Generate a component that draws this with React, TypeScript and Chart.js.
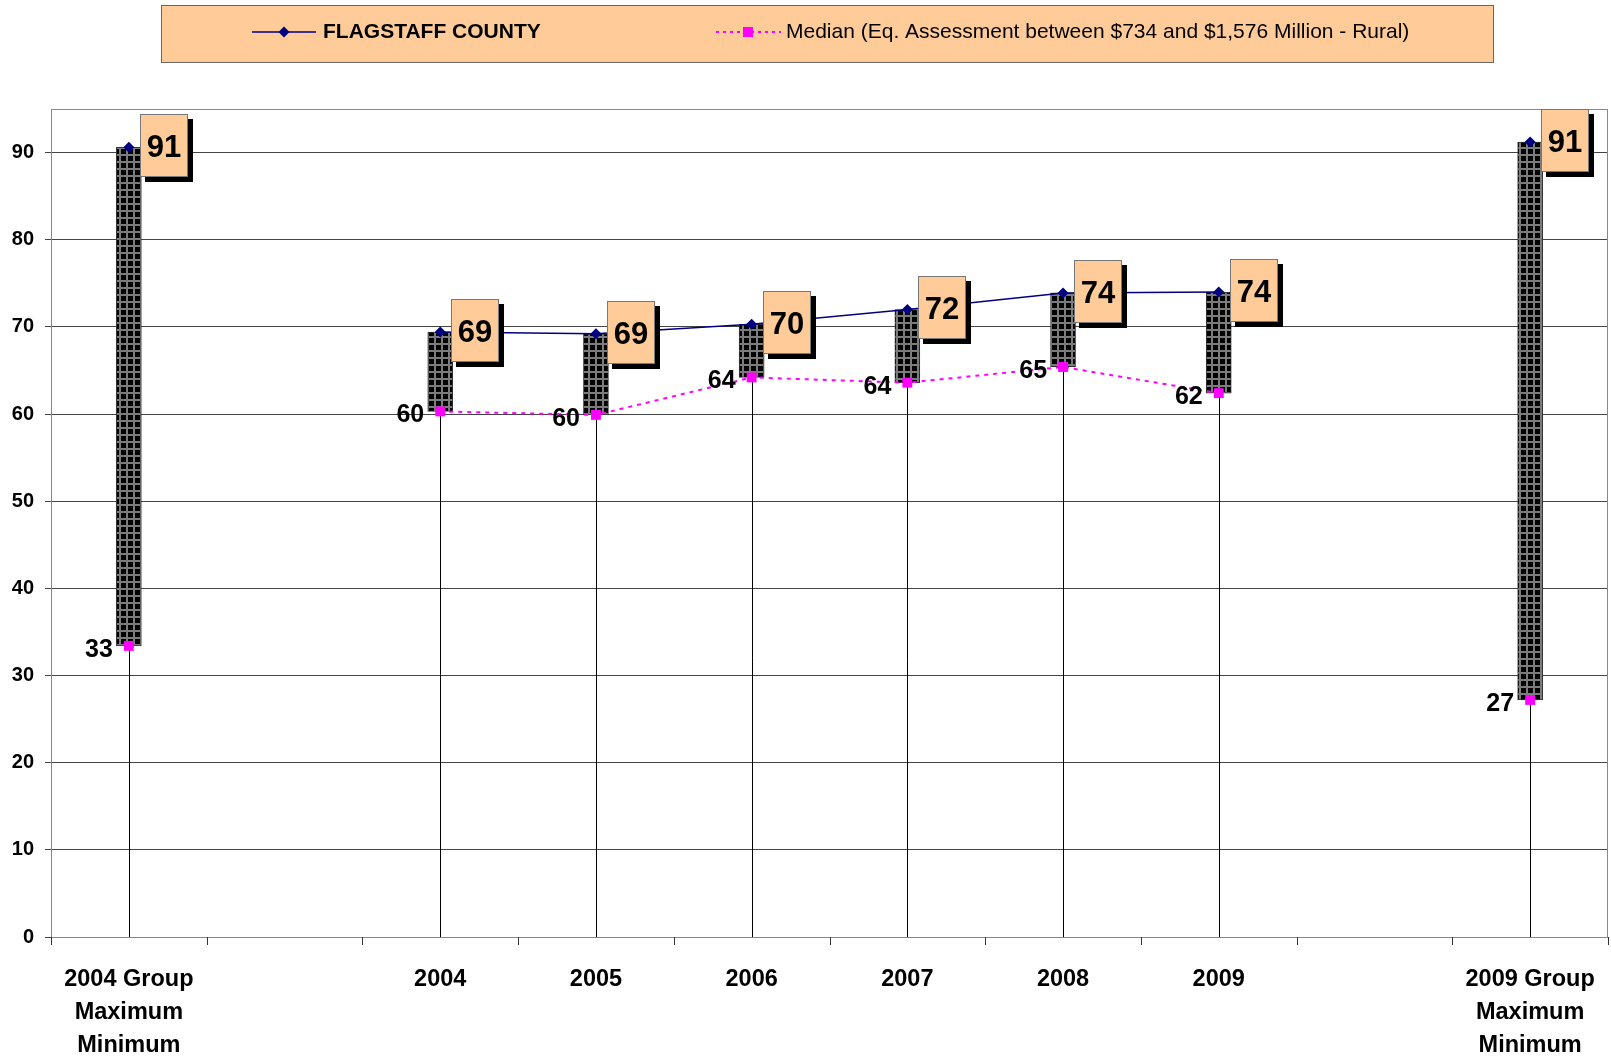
import React, { useEffect, useRef } from 'react';
import { Chart, registerables } from 'chart.js';

Chart.register(...registerables);

// ---------- data ----------
const categories: (string | string[])[] = [
  ['2004 Group', 'Maximum', 'Minimum'],
  '',
  '2004',
  '2005',
  '2006',
  '2007',
  '2008',
  '2009',
  '',
  ['2009 Group', 'Maximum', 'Minimum'],
];
const flagstaff: (number | null)[] = [null, null, 69.4, 69.2, 70.3, 72.0, 73.9, 74.0, null, null];
const median: (number | null)[] = [null, null, 60.3, 59.9, 64.2, 63.6, 65.4, 62.4, null, null];
const groupMax: (number | null)[] = [90.6, null, null, null, null, null, null, null, null, 91.2];
const groupMin: (number | null)[] = [33.4, null, null, null, null, null, null, null, null, 27.2];
const yTicks = [0, 10, 20, 30, 40, 50, 60, 70, 80, 90];
const yMax = 95;
const legendFlagstaff = 'FLAGSTAFF COUNTY';
const legendMedian = 'Median (Eq. Assessment between $734 and $1,576 Million - Rural)';

const FONT = '"Liberation Sans", Arial, sans-serif';
const NAVY = '#000080';
const MAGENTA = '#FF00FF';
const PEACH = '#FFCC99';

const highs = categories.map((_, i) => (flagstaff[i] ?? groupMax[i]) as number | null);
const lows = categories.map((_, i) => (median[i] ?? groupMin[i]) as number | null);
const hiLow = categories.map((_, i) =>
  highs[i] != null && lows[i] != null ? [lows[i] as number, highs[i] as number] : null
);

function makePattern(): CanvasPattern | string {
  const c = document.createElement('canvas');
  c.width = 7;
  c.height = 7;
  const g = c.getContext('2d');
  if (!g) return '#000';
  g.fillStyle = '#000';
  g.fillRect(0, 0, 7, 7);
  g.fillStyle = '#7c7c7c';
  g.fillRect(0, 0, 7, 2);
  g.fillRect(0, 0, 2, 7);
  return g.createPattern(c, 'repeat') || '#000';
}

const decor = {
  id: 'decor',
  beforeDraw(chart: any) {
    const ctx: CanvasRenderingContext2D = chart.ctx;
    ctx.save();
    ctx.fillStyle = '#fff';
    ctx.fillRect(0, 0, chart.width, chart.height);
    // legend box
    ctx.fillStyle = PEACH;
    ctx.fillRect(161, 5, 1333, 58);
    ctx.strokeStyle = '#666';
    ctx.lineWidth = 1;
    ctx.strokeRect(161.5, 5.5, 1332, 57);
    const ly = 32;
    // flagstaff sample
    ctx.strokeStyle = NAVY;
    ctx.lineWidth = 1.5;
    ctx.beginPath();
    ctx.moveTo(252, ly);
    ctx.lineTo(316, ly);
    ctx.stroke();
    ctx.fillStyle = NAVY;
    ctx.beginPath();
    ctx.moveTo(284, ly - 5.5);
    ctx.lineTo(289.5, ly);
    ctx.lineTo(284, ly + 5.5);
    ctx.lineTo(278.5, ly);
    ctx.closePath();
    ctx.fill();
    ctx.fillStyle = '#000';
    ctx.textBaseline = 'middle';
    ctx.textAlign = 'left';
    ctx.font = `bold 21px ${FONT}`;
    ctx.fillText(legendFlagstaff, 323, ly);
    // median sample
    ctx.strokeStyle = MAGENTA;
    ctx.lineWidth = 2;
    ctx.setLineDash([3, 4]);
    ctx.beginPath();
    ctx.moveTo(716, ly);
    ctx.lineTo(781, ly);
    ctx.stroke();
    ctx.setLineDash([]);
    ctx.fillStyle = MAGENTA;
    ctx.fillRect(743, ly - 5, 10, 10);
    ctx.fillStyle = '#000';
    ctx.font = `21px ${FONT}`;
    ctx.fillText(legendMedian, 786, ly);
    ctx.restore();
  },
  beforeDatasetsDraw(chart: any) {
    const ctx: CanvasRenderingContext2D = chart.ctx;
    const xs = chart.scales.x;
    const ys = chart.scales.y;
    const a = chart.chartArea;
    ctx.save();
    // plot border (top/right)
    ctx.strokeStyle = '#888';
    ctx.lineWidth = 1;
    ctx.strokeRect(Math.round(a.left) + 0.5, Math.round(a.top) + 0.5, Math.round(a.right - a.left) - 1, Math.round(a.bottom - a.top));
    // x-axis tick marks at category boundaries
    ctx.strokeStyle = '#333';
    const yb = Math.round(a.bottom);
    for (let i = 0; i <= categories.length; i++) {
      const x = Math.round(xs.getPixelForValue(i - 0.5)) + 0.5;
      ctx.beginPath();
      ctx.moveTo(x, yb);
      ctx.lineTo(x, yb + 8);
      ctx.stroke();
    }
    // drop lines
    ctx.strokeStyle = '#000';
    ctx.lineWidth = 1;
    lows.forEach((v, i) => {
      if (v == null) return;
      const x = Math.round(xs.getPixelForValue(i)) + 0.5;
      ctx.beginPath();
      ctx.moveTo(x, ys.getPixelForValue(0));
      ctx.lineTo(x, ys.getPixelForValue(v));
      ctx.stroke();
    });
    ctx.restore();
  },
  afterDatasetsDraw(chart: any) {
    const ctx: CanvasRenderingContext2D = chart.ctx;
    const xs = chart.scales.x;
    const ys = chart.scales.y;
    ctx.save();
    // low labels
    ctx.font = `bold 25px ${FONT}`;
    ctx.fillStyle = '#000';
    ctx.textAlign = 'right';
    ctx.textBaseline = 'middle';
    lows.forEach((v, i) => {
      if (v == null) return;
      const px = xs.getPixelForValue(i);
      const py = ys.getPixelForValue(v);
      ctx.fillText(String(Math.round(v)), px - 16, py + 4);
    });
    // high labels in boxes
    highs.forEach((v, i) => {
      if (v == null) return;
      const px = xs.getPixelForValue(i);
      const py = ys.getPixelForValue(v);
      const bx = Math.round(px + 11);
      const by = Math.round(py - 33);
      ctx.fillStyle = '#000';
      ctx.fillRect(bx + 5, by + 5, 48, 63);
      ctx.fillStyle = PEACH;
      ctx.fillRect(bx, by, 48, 63);
      ctx.strokeStyle = '#777';
      ctx.lineWidth = 1;
      ctx.strokeRect(bx + 0.5, by + 0.5, 47, 62);
      ctx.fillStyle = '#000';
      ctx.font = `bold 31px ${FONT}`;
      ctx.textAlign = 'center';
      ctx.textBaseline = 'middle';
      ctx.fillText(String(Math.round(v)), bx + 24, by + 34);
    });
    ctx.restore();
  },
};

export default function App() {
  const ref = useRef<HTMLCanvasElement | null>(null);
  useEffect(() => {
    if (!ref.current) return;
    Chart.defaults.font.family = FONT;
    const pattern = makePattern();
    const chart = new Chart(ref.current, {
      type: 'bar',
      data: {
        labels: categories as any,
        datasets: [
          {
            type: 'line',
            label: 'Group max',
            data: groupMax as any,
            showLine: false,
            pointStyle: 'rectRot',
            pointRadius: 5.5,
            pointBackgroundColor: NAVY,
            pointBorderColor: NAVY,
            pointBorderWidth: 0,
            order: 1,
          } as any,
          {
            type: 'line',
            label: 'Group min',
            data: groupMin as any,
            showLine: false,
            pointStyle: 'rect',
            pointRadius: 7,
            pointBackgroundColor: MAGENTA,
            pointBorderColor: MAGENTA,
            pointBorderWidth: 0,
            order: 1,
          } as any,
          {
            type: 'line',
            label: legendFlagstaff,
            data: flagstaff as any,
            borderColor: NAVY,
            borderWidth: 1.5,
            tension: 0,
            spanGaps: false,
            pointStyle: 'rectRot',
            pointRadius: 5.5,
            pointBackgroundColor: NAVY,
            pointBorderColor: NAVY,
            pointBorderWidth: 0,
            order: 2,
          } as any,
          {
            type: 'line',
            label: legendMedian,
            data: median as any,
            borderColor: MAGENTA,
            borderWidth: 2,
            borderDash: [4, 5],
            tension: 0,
            spanGaps: false,
            pointStyle: 'rect',
            pointRadius: 7,
            pointBackgroundColor: MAGENTA,
            pointBorderColor: MAGENTA,
            pointBorderWidth: 0,
            order: 3,
          } as any,
          {
            type: 'bar',
            label: 'High-Low',
            data: hiLow as any,
            backgroundColor: pattern as any,
            borderColor: '#333',
            borderWidth: 1,
            borderSkipped: false,
            barThickness: 25,
            grouped: false,
            order: 4,
          } as any,
        ],
      },
      options: {
        responsive: false,
        devicePixelRatio: 1,
        animation: false,
        events: [],
        layout: { autoPadding: false, padding: { top: 109, right: 3, bottom: 0, left: 0 } },
        plugins: {
          legend: { display: false },
          tooltip: { enabled: false },
        },
        scales: {
          x: {
            offset: true,
            grid: {
              drawOnChartArea: false,
              drawTicks: true,
              tickLength: 26,
              color: 'rgba(0,0,0,0)',
              tickColor: 'rgba(0,0,0,0)',
              offset: true,
            },
            border: { display: true, color: '#222', width: 1 },
            ticks: {
              autoSkip: false,
              maxRotation: 0,
              minRotation: 0,
              padding: 0,
              color: '#000',
              font: { family: FONT, size: 23.5, weight: 'bold', lineHeight: 1.4 },
            },
            afterFit: (s: any) => {
              s.height = 122;
            },
          },
          y: {
            min: 0,
            max: yMax,
            grid: { color: '#444', tickLength: 6, drawTicks: true },
            border: { display: true, color: '#444', width: 1 },
            ticks: {
              padding: 11,
              color: '#000',
              font: { family: FONT, size: 20, weight: 'bold' },
            },
            afterBuildTicks: (s: any) => {
              s.ticks = yTicks.map((v) => ({ value: v }));
            },
            afterFit: (s: any) => {
              s.width = 51;
            },
          },
        },
      },
      plugins: [decor],
    });
    return () => chart.destroy();
  }, []);
  return (
    <div style={{ position: 'absolute', left: 0, top: 0, width: 1611, height: 1059, background: '#fff' }}>
      <canvas ref={ref} width={1611} height={1059} style={{ display: 'block' }} />
    </div>
  );
}
